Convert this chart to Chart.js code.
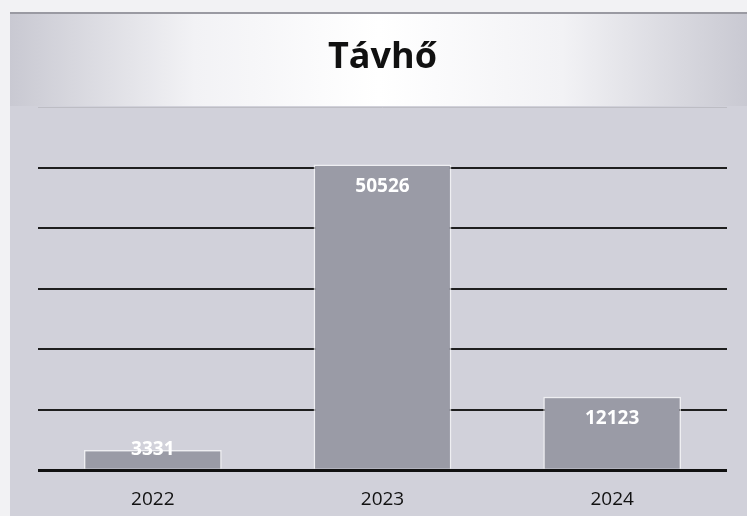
<!DOCTYPE html>
<html>
<head>
<meta charset="utf-8">
<script src="https://cdn.jsdelivr.net/npm/chart.js@4/dist/chart.umd.min.js"></script>
<style>
html,body{margin:0;padding:0;background:#cfcfd7;}
#wrap{width:747px;height:516px;position:relative;}
</style>
</head>
<body>
<div id="wrap"><canvas id="c" width="747" height="516"></canvas></div>
<script>
const categories = ['2022', '2023', '2024'];
const values = [3331, 50526, 12123];
const titleText = 'Távhő';

const bgPlugin = {
  id: 'bg',
  beforeDraw(chart) {
    const ctx = chart.ctx, w = chart.width, h = chart.height;
    ctx.save();
    ctx.fillStyle = '#d1d1da';
    ctx.fillRect(0, 0, w, h);
    ctx.fillStyle = '#f2f2f4';
    ctx.fillRect(0, 0, w, 12);
    ctx.fillRect(0, 0, 10, h);
    ctx.fillStyle = '#9a9aa2';
    ctx.fillRect(10, 12, w - 10, 2);
    const g = ctx.createLinearGradient(10, 0, w, 0);
    g.addColorStop(0, '#c9c9d2');
    g.addColorStop(0.25, '#f2f2f5');
    g.addColorStop(0.5, '#ffffff');
    g.addColorStop(0.75, '#f2f2f5');
    g.addColorStop(1, '#c9c9d2');
    ctx.fillStyle = g;
    ctx.fillRect(10, 14, w - 10, 92);
    ctx.restore();
  }
};

const labelPlugin = {
  id: 'barLabels',
  afterDatasetsDraw(chart) {
    const ctx = chart.ctx;
    const meta = chart.getDatasetMeta(0);
    ctx.save();
    ctx.font = 'bold 19px "Open Sans", sans-serif';
    ctx.fillStyle = '#ffffff';
    ctx.textAlign = 'center';
    ctx.textBaseline = 'middle';
    meta.data.forEach((bar, i) => {
      const hgt = bar.base - bar.y;
      const y = hgt > 40 ? bar.y + 22 : bar.y;
      ctx.fillText(String(values[i]), bar.x, y);
    });
    ctx.restore();
  }
};

new Chart(document.getElementById('c'), {
  type: 'bar',
  data: {
    labels: categories,
    datasets: [{
      data: values,
      backgroundColor: '#9a9ba6',
      borderColor: 'rgba(255,255,255,0.65)',
      borderWidth: 1.5,
      borderSkipped: 'bottom',
      barPercentage: 0.6,
      categoryPercentage: 1.0
    }]
  },
  options: {
    responsive: false,
    animation: false,
    devicePixelRatio: 1,
    layout: { padding: { left: 38, right: 20, top: 0, bottom: -13 } },
    plugins: {
      legend: { display: false },
      tooltip: { enabled: false },
      title: {
        display: true,
        text: titleText,
        color: '#111111',
        font: { family: '"Open Sans", sans-serif', size: 36, weight: 'bold' },
        padding: { top: 36, bottom: 28 }
      }
    },
    scales: {
      x: {
        grid: { display: false, drawTicks: false },
        border: { display: false },
        ticks: {
          color: '#111111',
          padding: 18,
          font: { family: '"Open Sans", sans-serif', size: 19 }
        }
      },
      y: {
        min: 0, max: 60000,
        ticks: { display: false, stepSize: 10000 },
        border: { display: false },
        grid: {
          drawTicks: false,
          color: (c) => c.tick.value === 60000 ? '#bdbdc4' : (c.tick.value === 0 ? '#111111' : '#1e1e1e'),
          lineWidth: (c) => c.tick.value === 60000 ? 1 : (c.tick.value === 0 ? 3 : 2)
        }
      }
    }
  },
  plugins: [bgPlugin, labelPlugin]
});
</script>
</body>
</html>
